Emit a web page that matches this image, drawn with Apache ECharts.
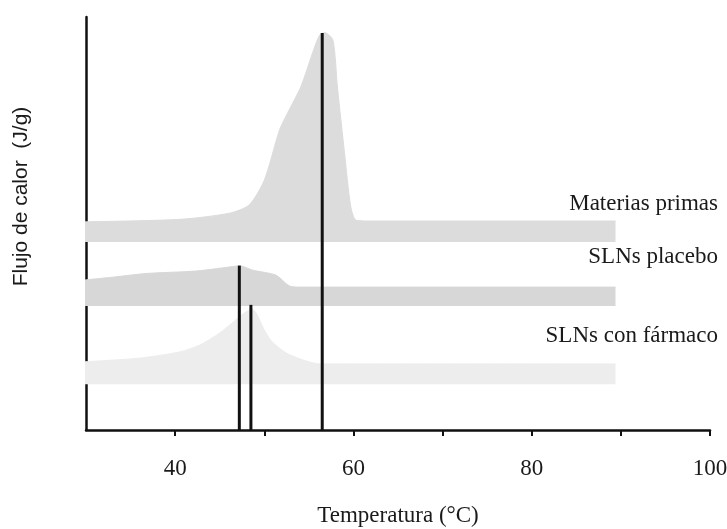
<!DOCTYPE html>
<html>
<head>
<meta charset="utf-8">
<script src="https://cdn.jsdelivr.net/npm/echarts@6/dist/echarts.min.js"></script>
<style>
  html, body { margin: 0; padding: 0; background: #fff; }
  #chart { width: 727px; height: 529px; }
</style>
</head>
<body>
<div id="chart"></div>
<script>
// curvas DSC (flujo de calor en unidades arbitrarias)
const seriesNames = ["Materias primas", "SLNs placebo", "SLNs con fármaco"];

const tempMP = [29.7, 40.5, 46.1, 48.3, 50.0, 51.7, 52.6, 54.1, 55.4, 56.2, 56.8, 57.7, 58.2, 59.0, 59.7, 60.3, 62, 89.4];
const flujoMP = [50.4, 51.0, 52.5, 54.5, 60.5, 72.6, 76.7, 83.1, 91.2, 95.6, 96.2, 94.4, 83.1, 67.1, 54.1, 50.8, 50.6, 50.6];
const baseMP = 45.5;

const tempPL = [29.7, 33.0, 36.8, 42.4, 46.9, 47.2, 48.7, 51.3, 52.8, 53.9, 89.4];
const flujoPL = [36.3, 37.0, 37.9, 38.5, 39.7, 39.8, 38.7, 37.5, 34.9, 34.6, 34.6];
const basePL = 30.0;

const tempSF = [29.7, 36.0, 40.5, 42.8, 45.0, 46.5, 47.2, 48.1, 48.6, 49.1, 50.0, 50.9, 52.5, 54.7, 56.2, 89.4];
const flujoSF = [16.5, 17.4, 18.9, 20.6, 23.5, 26.1, 27.4, 28.8, 29.3, 28.3, 24.2, 21.3, 18.6, 16.7, 16.0, 16.0];
const baseSF = 11.1;

// temperaturas de los picos marcados
const peakTemps = [47.2, 48.5, 56.5];
const peakTops = [39.8, 30.3, 96.1];

const xTicks = [40, 60, 80, 100];
const xMinorTicks = [40, 50, 60, 70, 80, 90, 100];

const zip = (xs, ys) => xs.map((x, i) => [x, ys[i]]);

const serif = "'Liberation Serif', 'DejaVu Serif', serif";

function band(name, xs, ys, base, color) {
  return {
    name: name,
    type: 'line',
    data: zip(xs, ys),
    smooth: 0.25,
    symbol: 'none',
    clip: false,
    lineStyle: { color: color, width: 1 },
    areaStyle: { color: color, opacity: 1, origin: base },
    z: 10
  };
}

const series = [
  band(seriesNames[0], tempMP, flujoMP, baseMP, '#dcdcdc'),
  band(seriesNames[1], tempPL, flujoPL, basePL, '#d7d7d7'),
  band(seriesNames[2], tempSF, flujoSF, baseSF, '#ededed')
];

peakTemps.forEach((t, i) => {
  series.push({
    type: 'line',
    data: [[t, peakTops[i]], [t, 0]],
    symbol: 'none',
    clip: false,
    lineStyle: { color: '#111', width: 3 },
    z: 12
  });
});

const chart = echarts.init(document.getElementById('chart'));
chart.setOption({
  animation: false,
  backgroundColor: '#fff',
  grid: { left: 86, right: 17, top: 17, bottom: 99, outerBoundsMode: 'none' },
  xAxis: {
    type: 'value',
    min: 30,
    max: 100,
    interval: 10,
    z: 0,
    splitLine: { show: false },
    axisLine: { lineStyle: { color: '#111', width: 2.5 } },
    axisTick: { length: 6, customValues: xMinorTicks, lineStyle: { color: '#111', width: 2 } },
    axisLabel: {
      margin: 27,
      color: '#1a1a1a',
      fontFamily: serif,
      fontSize: 23,
      formatter: v => (xTicks.indexOf(v) >= 0 ? String(v) : '')
    },
    name: 'Temperatura (°C)',
    nameLocation: 'middle',
    nameGap: 74,
    nameTextStyle: { color: '#1a1a1a', fontFamily: serif, fontSize: 23 }
  },
  yAxis: {
    type: 'value',
    min: 0,
    max: 100,
    z: 0,
    splitLine: { show: false },
    axisLine: { show: true, lineStyle: { color: '#111', width: 2.5 } },
    axisTick: { show: false },
    axisLabel: { show: false },
    name: 'Flujo de calor  (J/g)',
    nameLocation: 'middle',
    nameGap: 54,
    nameTextStyle: {
      color: '#1a1a1a',
      fontFamily: "'Liberation Sans', Arial, sans-serif",
      fontSize: 21,
      padding: [0, 0, 0, 54]
    }
  },
  graphic: [
    { type: 'text', right: 9, top: 192, style: { text: seriesNames[0], font: '23px ' + serif, fill: '#1a1a1a' } },
    { type: 'text', right: 9, top: 245, style: { text: seriesNames[1], font: '23px ' + serif, fill: '#1a1a1a' } },
    { type: 'text', right: 9, top: 324, style: { text: seriesNames[2], font: '23px ' + serif, fill: '#1a1a1a' } }
  ],
  series: series
});
</script>
</body>
</html>
